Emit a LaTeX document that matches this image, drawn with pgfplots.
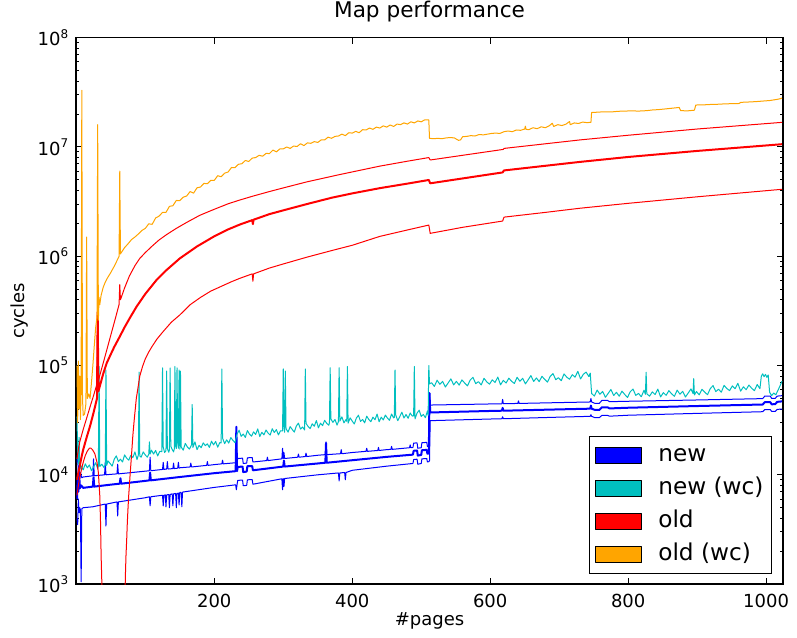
\documentclass[border=0pt]{standalone}
\usepackage{fontspec}
\setmainfont{DejaVu Sans}
\usepackage{pgfplots}
\pgfplotsset{compat=1.18}
\definecolor{mplcyan}{RGB}{0,191,191}
\definecolor{mplorange}{RGB}{255,165,0}
\begin{document}
\begin{tikzpicture}
\begin{axis}[
    scale only axis,
    width=353.2pt, height=273.2pt,
    ymode=log,
    xmin=0, xmax=1024, ymin=1e3, ymax=1e8,
    xtick={200,400,600,800,1000},
    xticklabels={200,400,600,800,1000},
    ytick={1e3,1e4,1e5,1e6,1e7,1e8},
    yticklabel={10\textsuperscript{\pgfmathparse{int(round(\tick/2.302585))}\pgfmathresult}},
    tick align=inside,
    major tick length=3pt, minor tick length=1.6pt,
    tick style={black, line width=0.5pt},
    axis line style={line width=0.8pt},
    ticklabel style={font=\fontsize{9}{10.8}\selectfont},
    xticklabel style={yshift=-1.5pt},
    title={Map performance},
    title style={font=\fontsize{10.8}{13}\selectfont, at={(0.5,1)}, anchor=base, yshift=3.9pt},
    xlabel={\#pages},
    xlabel style={font=\fontsize{9}{10.8}\selectfont, at={(axis description cs:0.5,-0.0677)}, anchor=center},
    ylabel={cycles},
    ylabel style={font=\fontsize{9}{10.8}\selectfont, at={(axis description cs:-0.081,0.5)}, anchor=center},
    every axis plot/.append style={line join=round},
    legend image code/.code={\draw[#1, draw=black, line width=0.5pt] (0pt,-4pt) rectangle (23pt,4pt);},
    legend cell align=left,
    legend style={at={(1,0)}, anchor=south east, xshift=-5.35pt, yshift=5pt,
        draw=black, line width=0.5pt, inner xsep=3pt, inner ysep=3.2pt,
        font=\fontsize{11.6}{13}\selectfont, row sep=4pt, column sep=7pt,
        nodes={inner sep=1pt, text height=8pt, text depth=2.5pt}},
]
\addlegendimage{fill=blue}
\addlegendentry{new}
\addlegendimage{fill=mplcyan}
\addlegendentry{new (wc)}
\addlegendimage{fill=red}
\addlegendentry{old}
\addlegendimage{fill=mplorange}
\addlegendentry{old (wc)}

% new: lower
\addplot[blue, line width=0.5pt, forget plot] coordinates {
(1,4e3)(2,3.5e3)(3,6e3)(4,4.5e3)(5,5e3)(6,4.8e3)(7,1.05e3)(8,4.9e3)(10,5e3)(24,5.1e3)
(42,5.4e3)(43,3.4e3)(44,5.4e3)(50,5.5e3)(59,5.65e3)(60,4.2e3)(61,5.65e3)(100,6.17e3)
(106,6.3e3)(107,5.2e3)(108,6.3e3)(125,6.5e3)(126,5.2e3)(127,6.5e3)(129,6.55e3)(130,5.1e3)
(131,6.55e3)(134,6.6e3)(135,5.0e3)(136,6.6e3)(139,6.7e3)(140,5.2e3)(141,6.7e3)(144,6.75e3)
(145,5.0e3)(146,6.75e3)(148,6.8e3)(149,5.3e3)(150,6.9e3)(152,6.9e3)(153,5.1e3)(154,6.95e3)
(200,7.67e3)(231,8.1e3)(232,7.3e3)(233,8.1e3)(234,8.9e3)(241,8.95e3)(242,7.95e3)(247,8.0e3)
(248,9.0e3)(255,9.05e3)(256,8.2e3)(298,9.2e3)(299,7.3e3)(300,9.23e3)(301,7.8e3)(302,9.25e3)
(350,1.0e4)(380,1.04e4)(381,8.8e3)(382,1.04e4)(389,1.05e4)(390,9.0e3)(391,1.05e4)(400,1.1e4)
(450,1.2e4)(488,1.27e4)(489,1.38e4)(494,1.39e4)(495,1.25e4)(500,1.27e4)(501,1.4e4)(508,1.41e4)
(509,1.31e4)(511,1.32e4)(512,1.35e4)(513,3.13e4)(600,3.24e4)(617,3.26e4)(618,3.4e4)(619,3.26e4)
(700,3.37e4)(745,3.43e4)(746,3.55e4)(747,3.43e4)(752,3.33e4)(758,3.33e4)(762,3.5e4)(770,3.5e4)
(773,3.44e4)(800,3.51e4)(900,3.65e4)(995,3.78e4)(998,3.95e4)(1006,3.95e4)(1008,3.8e4)
(1013,3.8e4)(1016,3.97e4)(1023,4.0e4)
};
% new: upper
\addplot[blue, line width=0.5pt, forget plot] coordinates {
(1,1.3e4)(2,1.6e4)(3,9e3)(4,1.1e4)(5,9.3e3)(6,1.05e4)(8,9.4e3)(10,9.55e3)(24,9.8e3)(25,1.4e4)
(26,9.8e3)(41,1.0e4)(42,1.3e4)(43,1.0e4)(50,1.01e4)(59,1.02e4)(60,1.25e4)(61,1.02e4)(100,1.08e4)
(106,1.09e4)(107,1.45e4)(108,1.09e4)(125,1.12e4)(126,1.3e4)(127,1.12e4)(131,1.13e4)(132,1.32e4)
(133,1.13e4)(140,1.14e4)(141,1.28e4)(142,1.14e4)(147,1.15e4)(148,1.3e4)(149,1.15e4)(150,1.16e4)
(165,1.18e4)(166,1.28e4)(167,1.18e4)(189,1.22e4)(190,1.32e4)(191,1.22e4)(200,1.24e4)(211,1.26e4)
(212,1.36e4)(213,1.26e4)(231,1.29e4)(232,2.5e4)(233,1.29e4)(234,1.41e4)(241,1.42e4)(242,1.27e4)
(247,1.28e4)(248,1.43e4)(255,1.44e4)(256,1.31e4)(276,1.35e4)(277,1.45e4)(278,1.35e4)(298,1.4e4)
(299,1.75e4)(300,1.41e4)(301,1.6e4)(302,1.41e4)(321,1.45e4)(322,1.55e4)(323,1.45e4)(332,1.47e4)
(333,1.58e4)(334,1.47e4)(350,1.51e4)(361,1.53e4)(362,2.0e4)(363,1.53e4)(383,1.56e4)(384,1.7e4)
(385,1.56e4)(400,1.6e4)(420,1.64e4)(421,1.75e4)(422,1.64e4)(437,1.67e4)(438,1.78e4)(439,1.67e4)
(450,1.7e4)(456,1.71e4)(457,1.82e4)(458,1.71e4)(483,1.77e4)(484,1.88e4)(485,1.77e4)(488,1.78e4)
(489,1.95e4)(494,1.96e4)(495,1.75e4)(500,1.77e4)(501,1.97e4)(508,1.98e4)(509,1.82e4)(511,1.83e4)
(512,5.6e4)(513,4.35e4)(600,4.45e4)(617,4.47e4)(618,4.9e4)(619,4.47e4)(640,4.5e4)(641,4.75e4)
(642,4.5e4)(700,4.58e4)(745,4.64e4)(746,5.0e4)(747,4.64e4)(752,4.5e4)(758,4.5e4)(762,4.8e4)
(770,4.8e4)(773,4.67e4)(800,4.71e4)(900,4.84e4)(995,4.98e4)(998,5.25e4)(1006,5.25e4)(1008,5.0e4)
(1013,5.0e4)(1016,5.25e4)(1023,5.3e4)
};
% new: middle
\addplot[blue, line width=1pt, forget plot] coordinates {
(1,6e3)(2,9e3)(3,7e3)(4,1.2e4)(5,7.5e3)(7,8e3)(10,7.6e3)(24,7.8e3)(25,9.5e3)(26,7.8e3)
(50,8.13e3)(63,8.3e3)(64,9.3e3)(65,8.3e3)(100,8.8e3)(106,8.9e3)(107,1.05e4)(108,8.9e3)
(150,9.55e3)(200,1.035e4)(231,1.08e4)(232,2.75e4)(233,1.08e4)(234,1.18e4)(241,1.19e4)
(242,1.06e4)(247,1.07e4)(248,1.2e4)(255,1.2e4)(256,1.1e4)(300,1.19e4)(301,1.35e4)(302,1.19e4)
(350,1.27e4)(361,1.29e4)(362,1.95e4)(363,1.29e4)(400,1.36e4)(450,1.46e4)(488,1.53e4)
(489,1.66e4)(494,1.67e4)(495,1.5e4)(500,1.52e4)(501,1.68e4)(508,1.69e4)(509,1.56e4)(511,1.57e4)
(512,5.6e4)(513,3.72e4)(600,3.84e4)(617,3.86e4)(618,4.1e4)(619,3.86e4)(700,3.97e4)(745,4.03e4)
(746,4.3e4)(747,4.03e4)(752,3.92e4)(758,3.92e4)(762,4.15e4)(770,4.15e4)(773,4.05e4)(800,4.11e4)
(900,4.26e4)(995,4.4e4)(998,4.62e4)(1006,4.62e4)(1008,4.42e4)(1013,4.43e4)(1016,4.65e4)(1023,4.7e4)
};

% new (wc)
\addplot[mplcyan, line width=0.5pt, forget plot] coordinates {
(1,3.4e4)(2,1.5e4)(3,1.25e4)(4,2.2e4)(5,1.12e4)(7,1.21e4)(10,1.11e4)(13,1.26e4)(16,1.16e4)
(19,1.23e4)(22,1.09e4)(25,1.18e4)(28,1.29e4)(31,1.14e4)(32,1.2e4)(33,9.8e4)(34,1.19e4)(37,1.25e4)
(40,1.17e4)(42,1.23e4)(43,9.1e4)(44,1.22e4)(46,1.34e4)(49,1.27e4)(52,1.2e4)(55,1.39e4)(58,1.49e4)
(61,1.32e4)(64,1.39e4)(67,1.31e4)(70,1.52e4)(73,1.42e4)(76,1.36e4)(79,1.51e4)(82,1.44e4)
(85,1.62e4)(88,1.38e4)(90,1.52e4)(91,8.7e4)(92,1.49e4)(94,1.45e4)(97,1.62e4)(100,1.52e4)
(103,1.45e4)(105,1.54e4)(106,2.0e4)(107,1.55e4)(109,1.68e4)(112,1.55e4)(115,1.67e4)(118,1.49e4)
(121,1.64e4)(124,1.63e4)(125,9.5e4)(126,1.8e4)(128,1.6e4)(130,1.66e4)(131,8.9e4)(132,1.74e4)
(134,1.61e4)(135,1.69e4)(136,9.5e4)(137,1.82e4)(139,1.71e4)(141,1.62e4)(142,1.72e4)(143,9.8e4)
(144,1.83e4)(145,1.74e4)(146,9.5e4)(147,1.95e4)(148,1.75e4)(149,9.1e4)(150,1.72e4)(151,8.9e4)
(152,1.8e4)(155,1.68e4)(158,1.94e4)(161,1.8e4)(164,1.72e4)(167,1.88e4)(168,4.4e4)(169,1.78e4)
(172,2.0e4)(175,1.7e4)(178,1.86e4)(181,1.77e4)(184,1.96e4)(187,1.85e4)(190,1.92e4)(193,1.78e4)
(196,2.03e4)(199,1.88e4)(202,2.02e4)(205,1.79e4)(208,1.97e4)(210,1.96e4)(211,9.3e4)(212,2.17e4)
(215,1.93e4)(218,2.09e4)(221,1.95e4)(224,2.19e4)(227,2.07e4)(230,1.97e4)(233,2.35e4)(236,2.56e4)
(239,2.25e4)(242,2.36e4)(245,2.2e4)(248,2.54e4)(251,2.36e4)(254,2.26e4)(257,2.47e4)(260,2.34e4)
(263,2.63e4)(266,2.24e4)(269,2.45e4)(272,2.32e4)(275,2.57e4)(278,2.41e4)(281,2.31e4)(284,2.64e4)
(287,2.44e4)(290,2.59e4)(293,2.32e4)(296,2.53e4)(299,2.52e4)(300,9.3e4)(301,2.77e4)(302,2.45e4)
(303,8.9e4)(304,2.64e4)(307,2.46e4)(310,2.76e4)(313,2.6e4)(316,2.46e4)(319,2.8e4)(322,2.97e4)
(325,2.62e4)(328,2.74e4)(331,2.57e4)(332,9.3e4)(333,2.96e4)(336,2.77e4)(339,2.65e4)(342,2.93e4)
(345,2.78e4)(348,3.14e4)(351,2.69e4)(354,2.97e4)(357,2.82e4)(360,3.15e4)(363,2.96e4)(366,2.84e4)
(367,3.0e4)(368,9.55e4)(369,3.25e4)(372,3.02e4)(375,3.21e4)(378,2.85e4)(380,3.07e4)(381,9.55e4)
(382,3.1e4)(385,3.39e4)(388,2.99e4)(391,3.21e4)(392,3.09e4)(393,9.8e4)(394,2.97e4)(397,3.32e4)
(400,3.1e4)(403,2.92e4)(406,3.31e4)(409,3.51e4)(412,3.08e4)(415,3.21e4)(418,2.99e4)(421,3.44e4)
(424,3.21e4)(427,3.06e4)(430,3.37e4)(433,3.19e4)(436,3.6e4)(439,3.06e4)(442,3.37e4)(445,3.18e4)
(448,3.52e4)(451,3.31e4)(454,3.15e4)(457,3.6e4)(460,3.32e4)(461,3.35e4)(462,9.1e4)(463,3.53e4)
(466,3.13e4)(469,3.42e4)(472,3.74e4)(475,3.31e4)(478,3.56e4)(481,3.29e4)(484,3.68e4)(487,3.45e4)
(489,3.46e4)(490,9.8e4)(491,3.25e4)(494,3.68e4)(497,3.9e4)(500,3.42e4)(503,3.57e4)(506,3.33e4)
(509,3.84e4)(510,3.5e4)(511,1.0e5)(512,6.8e4)
(515,6.96e4)(519,6.44e4)(523,7.34e4)(527,6.74e4)(531,7.16e4)(535,6.36e4)(539,6.92e4)(543,7.55e4)
(547,6.66e4)(551,7.16e4)(555,6.62e4)(559,7.39e4)(563,6.92e4)(567,6.51e4)(571,7.37e4)(575,7.8e4)
(579,6.83e4)(583,7.12e4)(587,6.65e4)(591,7.64e4)(595,7.09e4)(599,6.75e4)(603,7.4e4)(607,6.99e4)
(611,7.85e4)(615,6.66e4)(619,7.32e4)(623,6.92e4)(627,7.66e4)(631,7.18e4)(635,6.85e4)(639,7.81e4)
(643,7.18e4)(647,7.64e4)(651,6.79e4)(655,7.4e4)(659,8.09e4)(663,7.15e4)(667,7.7e4)(671,7.12e4)
(675,7.97e4)(679,7.47e4)(683,7.05e4)(687,7.97e4)(691,8.44e4)(695,7.42e4)(699,7.74e4)(703,7.26e4)
(707,8.38e4)(711,7.83e4)(715,7.49e4)(719,8.25e4)(723,7.83e4)(727,8.85e4)(731,7.54e4)(735,8.32e4)
(739,8.7e4)(743,7.93e4)(745,8.53e4)(747,5.55e4)(751,5.26e4)(755,5.97e4)(759,5.46e4)(763,5.79e4)
(767,5.12e4)(771,5.56e4)(775,6.04e4)(779,5.32e4)(783,5.69e4)(787,5.24e4)(791,5.83e4)(795,5.44e4)
(799,5.1e4)(803,5.76e4)(807,6.09e4)(811,5.33e4)(815,5.56e4)(819,5.18e4)(823,5.95e4)(825,5.46e4)
(826,8.7e4)(827,5.51e4)(831,5.25e4)(835,5.74e4)(839,5.43e4)(843,6.08e4)(847,5.16e4)(851,5.65e4)
(855,5.34e4)(859,5.89e4)(863,5.51e4)(867,5.23e4)(871,5.96e4)(875,5.47e4)(879,5.81e4)(883,5.15e4)
(887,5.6e4)(891,6.11e4)(894,5.55e4)(895,7.6e4)(896,5.38e4)(899,5.78e4)(903,5.39e4)(907,6.06e4)
(911,5.7e4)(915,5.41e4)(919,6.15e4)(923,6.55e4)(927,5.78e4)(931,6.07e4)(935,5.7e4)(939,6.59e4)
(943,6.16e4)(947,5.9e4)(951,6.51e4)(955,6.14e4)(959,6.88e4)(963,5.83e4)(967,6.39e4)(971,6.01e4)
(975,6.63e4)(979,6.2e4)(983,5.89e4)(987,6.7e4)(991,6.14e4)(993,8.0e4)(995,8.4e4)(997,7.9e4)
(999,8.3e4)(1001,7.8e4)(1003,8.2e4)(1005,5.7e4)(1008,5.3e4)(1011,5.6e4)(1014,5.4e4)(1017,5.9e4)
(1020,6.5e4)(1023,7.2e4)
};

% old: lower (two pieces, negative in between)
\addplot[red, line width=0.5pt, forget plot] coordinates {
(1,6.5e3)(3,8e3)(5,9.5e3)(8,1.15e4)(10,1.3e4)(13,1.5e4)(16,1.65e4)(19,1.75e4)(21,1.76e4)
(24,1.68e4)(27,1.55e4)(30,1.3e4)(32,1.05e4)(34,6.5e3)(35,4e3)(36,1.8e3)(37,1.05e3)(37.5,5e2)
};
\addplot[red, line width=0.5pt, forget plot] coordinates {
(70.5,5e2)(71,1.1e3)(72,1.8e3)(73,2.5e3)(74,3.7e3)(75,5e3)(76,6.5e3)(78,1e4)(80,1.5e4)(82,2.3e4)
(84,3.2e4)(87,5e4)(90,6.6e4)(92,8.0e4)(96,9.8e4)(100,1.15e5)(105,1.33e5)(110,1.5e5)(117,1.75e5)
(126,2.05e5)(138,2.5e5)(150,2.9e5)(165,3.6e5)(180,4.2e5)(195,4.8e5)(210,5.3e5)(225,5.85e5)
(237,6.28e5)(255,6.9e5)(256,5.9e5)(257,6.9e5)(280,7.8e5)(300,8.5e5)(334,9.8e5)(372,1.135e6)
(400,1.26e6)(440,1.52e6)(480,1.74e6)(511,1.93e6)(513,1.62e6)(560,1.84e6)(618,2.1e6)(620,2.28e6)
(680,2.52e6)(730,2.75e6)(800,3.05e6)(900,3.5e6)(1023,4.1e6)
};
% old: upper
\addplot[red, line width=0.5pt, forget plot] coordinates {
(1,1.4e4)(3,1.7e4)(5,2e4)(10,2.6e4)(15,3.3e4)(20,4.2e4)(25,5.3e4)(30,6.8e4)(31,3.1e5)(32,7.3e4)
(36,9.0e4)(40,1.11e5)(45,1.45e5)(51,2.0e5)(57,2.75e5)(62,3.62e5)(63,5.5e5)(64,4.0e5)(70,5.13e5)
(77,6.6e5)(85,8.2e5)(92,9.55e5)(100,1.08e6)(110,1.24e6)(120,1.41e6)(131,1.58e6)(145,1.8e6)
(160,2.04e6)(179,2.37e6)(200,2.69e6)(220,3.02e6)(237,3.27e6)(256,3.55e6)(280,3.91e6)(300,4.22e6)
(334,4.79e6)(380,5.56e6)(440,6.68e6)(480,7.41e6)(511,8.0e6)(513,7.6e6)(619,9.5e6)(620,9.7e6)
(730,1.16e7)(800,1.28e7)(900,1.46e7)(1023,1.68e7)
};
% old: middle
\addplot[red, line width=1pt, forget plot] coordinates {
(1,9e3)(3,1.05e4)(5,1.2e4)(8,1.5e4)(10,1.7e4)(15,2.2e4)(20,2.8e4)(25,3.7e4)(30,5e4)(31,3.1e5)
(32,5.8e4)(35,6.8e4)(39,8.4e4)(44,1.05e5)(49,1.23e5)(55,1.48e5)(63,1.84e5)(70,2.24e5)(78,2.75e5)
(87.5,3.47e5)(100,4.52e5)(116,6.03e5)(131,7.5e5)(150,9.55e5)(175,1.23e6)(199,1.51e6)(220,1.76e6)
(237,1.95e6)(255,2.14e6)(256,1.97e6)(257,2.16e6)(280,2.43e6)(300,2.63e6)(334,3.0e6)(370,3.43e6)
(400,3.76e6)(440,4.2e6)(480,4.62e6)(511,4.99e6)(513,4.65e6)(618,5.85e6)(620,6.1e6)(730,7.3e6)
(800,8.1e6)(900,9.2e6)(1023,1.06e7)
};

% old (wc)
\addplot[mplorange, line width=0.5pt, forget plot] coordinates {
(1,1e5)(2,3e4)(3,1.1e5)(4,4e4)(5,8e4)(6,3.2e4)(7,6e4)(8,3.3e7)(9,5e4)(10,3.5e4)(12,3.6e4)
(14,4.5e4)(15,1.5e6)(16,5e4)(18,5.5e4)(20,5e4)(22,7e4)(24,1.0e5)(26,1.5e5)(28,2.2e5)(30,2.8e5)
(31,1.6e7)(32,2.6e5)(33,4.2e5)(34,3.6e5)(36,4.4e5)(39,5.2e5)(42,5.8e5)(45,6.3e5)(50,7.1e5)
(55,8.1e5)(60,9.4e5)(62,1.0e6)(63,6e6)(64,1.05e6)(66,1.1e6)(70,1.2e6)(75,1.3e6)(80,1.42e6)
(85,1.5e6)(90,1.6e6)(95,1.72e6)(100,1.8e6)(105,1.98e6)(110,1.96e6)(115,2.24e6)(120,2.33e6)
(125,2.52e6)(130,2.52e6)(135,2.86e6)(140,2.9e6)(145,3.24e6)(150,3.23e6)(155,3.47e6)(160,3.56e6)
(165,3.91e6)(170,3.78e6)(175,4.23e6)(180,4.3e6)(185,4.64e6)(190,4.61e6)(195,4.95e6)(200,4.95e6)
(205,5.46e6)(210,5.34e6)(215,5.76e6)(220,5.9e6)(225,6.49e6)(230,6.47e6)(235,6.94e6)(240,7.03e6)
(245,7.52e6)(250,7.37e6)(255,7.91e6)(260,8.0e6)(265,8.39e6)(270,8.23e6)(275,8.72e6)(280,8.71e6)
(285,9.37e6)(290,9.02e6)(295,9.59e6)(300,9.6e6)(305,1.0e7)(310,9.7e6)(315,1.02e7)(320,1.01e7)
(325,1.07e7)(330,1.03e7)(335,1.09e7)(340,1.08e7)(345,1.12e7)(350,1.1e7)(355,1.16e7)(360,1.16e7)
(365,1.23e7)(370,1.2e7)(375,1.25e7)(380,1.26e7)(385,1.31e7)(390,1.27e7)(395,1.35e7)(400,1.34e7)
(405,1.39e7)(410,1.35e7)(415,1.44e7)(420,1.43e7)(425,1.49e7)(430,1.45e7)(435,1.52e7)(440,1.49e7)
(445,1.56e7)(450,1.52e7)(455,1.59e7)(460,1.54e7)(465,1.62e7)(470,1.6e7)(475,1.66e7)(480,1.62e7)
(485,1.7e7)(490,1.66e7)(495,1.73e7)(500,1.7e7)(505,1.77e7)(511,1.77e7)(512,1.2e7)(518,1.19e7)
(524,1.2e7)(530,1.19e7)(536,1.21e7)(542,1.22e7)(548,1.21e7)(554,1.15e7)(557,1.16e7)(560,1.24e7)
(566,1.25e7)(572,1.27e7)(578,1.26e7)(584,1.3e7)(590,1.29e7)(596,1.31e7)(602,1.33e7)(608,1.34e7)
(614,1.33e7)(620,1.38e7)(626,1.4e7)(632,1.38e7)(638,1.43e7)(644,1.42e7)(650,1.46e7)(651,1.55e7)
(652,1.45e7)(656,1.44e7)(662,1.5e7)(668,1.47e7)(674,1.53e7)(680,1.5e7)(686,1.57e7)(690,1.65e7)
(692,1.54e7)(698,1.6e7)(704,1.57e7)(710,1.62e7)(715,1.71e7)(716,1.6e7)(722,1.66e7)(728,1.64e7)
(734,1.69e7)(740,1.67e7)(746,1.68e7)(747,2.07e7)(755,2.08e7)(765,2.1e7)(775,2.09e7)(785,2.12e7)
(795,2.13e7)(805,2.14e7)(815,2.13e7)(827,2.15e7)(835,2.18e7)(845,2.2e7)(860,2.25e7)(874,2.3e7)
(876,2.15e7)(886,2.14e7)(896,2.17e7)(898,2.42e7)(910,2.43e7)(920,2.45e7)(930,2.46e7)(940,2.48e7)
(950,2.49e7)(961,2.5e7)(963,2.56e7)(975,2.58e7)(985,2.6e7)(995,2.63e7)(1005,2.66e7)(1015,2.72e7)
(1020,2.76e7)(1023,2.8e7)
};
\end{axis}
\pgfresetboundingbox
\path ([shift={(-38.15pt,-26.5pt)}]current axis.south west) rectangle ([shift={(7.15pt,18.85pt)}]current axis.north east);
\end{tikzpicture}
\end{document}
